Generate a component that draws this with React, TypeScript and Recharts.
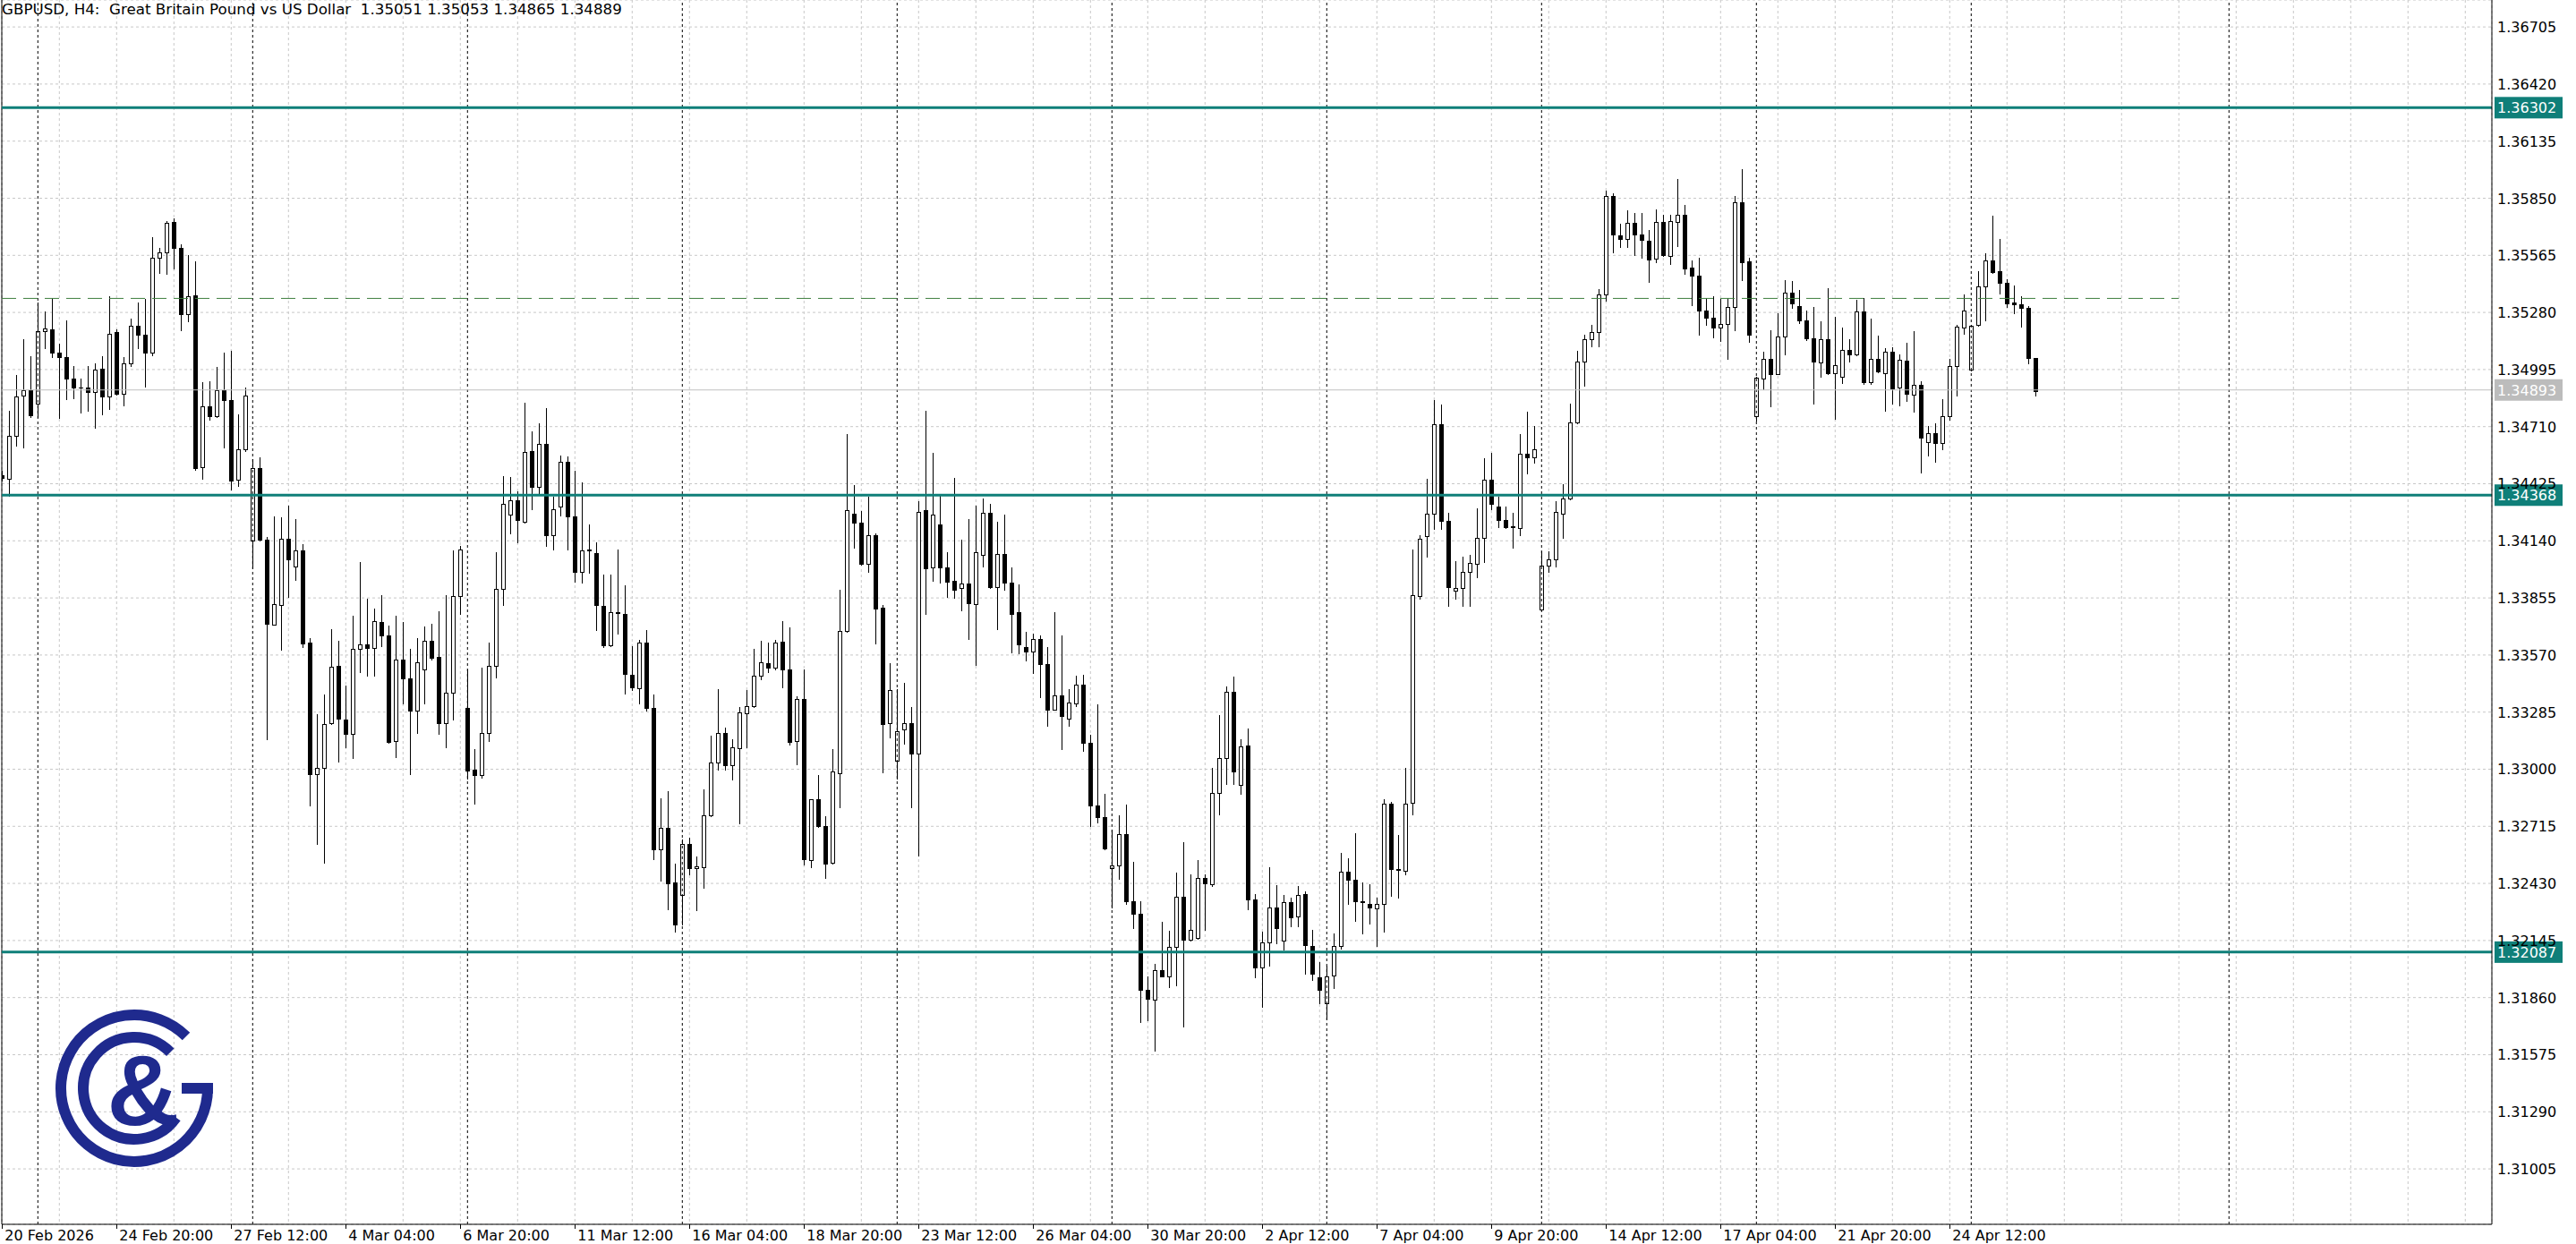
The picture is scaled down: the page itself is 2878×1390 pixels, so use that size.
import React from "react";
import { ComposedChart, Bar, XAxis, YAxis, CartesianGrid, ReferenceLine } from "recharts";

const opens = [
  1.34468, 1.34450, 1.34665, 1.34864, 1.34894, 1.34827, 1.35186, 1.35195, 1.35080, 1.35056,
  1.34952, 1.34905, 1.34903, 1.34881, 1.34998, 1.34859, 1.35182, 1.34872, 1.35026, 1.35212,
  1.35171, 1.35078, 1.35552, 1.35578, 1.35731, 1.35604, 1.35271, 1.35364, 1.34509, 1.34810,
  1.34762, 1.34894, 1.34844, 1.34446, 1.34595, 1.34141, 1.34502, 1.34145, 1.33723, 1.33821,
  1.34150, 1.34011, 1.34091, 1.33632, 1.32977, 1.33007, 1.33230, 1.33518, 1.33250, 1.33178,
  1.33600, 1.33622, 1.33605, 1.33734, 1.33669, 1.33141, 1.33548, 1.33455, 1.33293, 1.33498,
  1.33642, 1.33559, 1.33230, 1.33380, 1.33865, 1.33305, 1.32997, 1.32973, 1.33183, 1.33518,
  1.33901, 1.34273, 1.34343, 1.34237, 1.34589, 1.34410, 1.34622, 1.34166, 1.34310, 1.34534,
  1.34264, 1.33987, 1.34095, 1.34080, 1.33817, 1.33619, 1.33783, 1.33776, 1.33473, 1.33404,
  1.33630, 1.33307, 1.32599, 1.32709, 1.32434, 1.32373, 1.32629, 1.32505, 1.32510, 1.32771,
  1.33032, 1.33183, 1.33021, 1.33107, 1.33280, 1.33316, 1.33467, 1.33531, 1.33509, 1.33635,
  1.33498, 1.33139, 1.33349, 1.32545, 1.32851, 1.32716, 1.32534, 1.32982, 1.33688, 1.34275,
  1.34231, 1.34023, 1.34170, 1.33808, 1.33231, 1.33043, 1.33198, 1.33229, 1.33080, 1.34295,
  1.34006, 1.34223, 1.34006, 1.33940, 1.33905, 1.33925, 1.33826, 1.34069, 1.34282, 1.33911,
  1.34074, 1.33931, 1.33782, 1.33611, 1.33587, 1.33648, 1.33525, 1.33299, 1.33367, 1.33253,
  1.33330, 1.33424, 1.33131, 1.32817, 1.32762, 1.32505, 1.32519, 1.32676, 1.32343, 1.32279,
  1.31900, 1.31848, 1.31997, 1.31968, 1.32115, 1.32363, 1.32150, 1.32160, 1.32459, 1.32425,
  1.32883, 1.33054, 1.33385, 1.32924, 1.33119, 1.32352, 1.32010, 1.32137, 1.32309, 1.32143,
  1.32338, 1.32264, 1.32377, 1.32118, 1.31963, 1.31830, 1.31971, 1.32118, 1.32487, 1.32450,
  1.32340, 1.32329, 1.32306, 1.32329, 1.32828, 1.32504, 1.32493, 1.32831, 1.33866, 1.34162,
  1.34275, 1.34723, 1.34241, 1.33891, 1.33905, 1.33987, 1.34026, 1.34156, 1.34444, 1.34311,
  1.34246, 1.34212, 1.34204, 1.34576, 1.34556, 1.33798, 1.34018, 1.34046, 1.34275, 1.34353,
  1.34731, 1.35036, 1.35146, 1.35182, 1.35371, 1.35862, 1.35664, 1.35648, 1.35727, 1.35670,
  1.35636, 1.35550, 1.35733, 1.35562, 1.35733, 1.35766, 1.35502, 1.35465, 1.35290, 1.35253,
  1.35205, 1.35223, 1.35308, 1.35832, 1.35533, 1.34761, 1.34950, 1.35050, 1.34972, 1.35159,
  1.35380, 1.35313, 1.35241, 1.35150, 1.35032, 1.35147, 1.34977, 1.34960, 1.35095, 1.35071,
  1.35286, 1.34932, 1.35046, 1.34977, 1.35084, 1.34905, 1.35040, 1.34871, 1.34920, 1.34634,
  1.34678, 1.34629, 1.34763, 1.35014, 1.35204, 1.34995, 1.35219, 1.35408, 1.35541, 1.35487,
  1.35429, 1.35330, 1.35322, 1.35302, 1.35051,
];

const highs = [
  1.34490, 1.34790, 1.34968, 1.35147, 1.35063, 1.35329, 1.35286, 1.35353, 1.35126, 1.35242,
  1.35013, 1.34948, 1.35013, 1.35026, 1.35063, 1.35359, 1.35195, 1.35056, 1.35249, 1.35329,
  1.35348, 1.35654, 1.35604, 1.35734, 1.35751, 1.35621, 1.35565, 1.35535, 1.34933, 1.34937,
  1.35009, 1.35080, 1.35087, 1.34769, 1.34903, 1.34550, 1.34556, 1.34158, 1.34262, 1.34256,
  1.34316, 1.34249, 1.34124, 1.33656, 1.33275, 1.33373, 1.33697, 1.33641, 1.33416, 1.33764,
  1.34033, 1.33849, 1.33803, 1.33868, 1.33715, 1.33767, 1.33736, 1.33600, 1.33654, 1.33712,
  1.33728, 1.33787, 1.33870, 1.34091, 1.34115, 1.33500, 1.33101, 1.33507, 1.33630, 1.34082,
  1.34461, 1.34458, 1.34388, 1.34829, 1.34685, 1.34726, 1.34804, 1.34361, 1.34567, 1.34560,
  1.34490, 1.34430, 1.34220, 1.34131, 1.33971, 1.33972, 1.34095, 1.33916, 1.33615, 1.33644,
  1.33693, 1.33371, 1.32855, 1.32891, 1.32528, 1.32650, 1.32656, 1.32565, 1.32899, 1.33167,
  1.33398, 1.33207, 1.33148, 1.33309, 1.33394, 1.33600, 1.33641, 1.33630, 1.33644, 1.33741,
  1.33710, 1.33365, 1.33500, 1.32851, 1.32971, 1.32765, 1.33100, 1.33896, 1.34672, 1.34420,
  1.34289, 1.34361, 1.34177, 1.33821, 1.33530, 1.33398, 1.33431, 1.33310, 1.34337, 1.34789,
  1.34578, 1.34363, 1.34085, 1.34453, 1.34146, 1.34249, 1.34315, 1.34350, 1.34324, 1.34236,
  1.34269, 1.34006, 1.33922, 1.33685, 1.33677, 1.33668, 1.33611, 1.33784, 1.33668, 1.33400,
  1.33466, 1.33470, 1.33174, 1.33323, 1.32878, 1.32698, 1.32769, 1.32823, 1.32538, 1.32341,
  1.31966, 1.32030, 1.32238, 1.32192, 1.32483, 1.32637, 1.32477, 1.32545, 1.32477, 1.33005,
  1.33269, 1.33413, 1.33464, 1.33150, 1.33203, 1.32377, 1.32188, 1.32512, 1.32422, 1.32371,
  1.32357, 1.32419, 1.32391, 1.32197, 1.32039, 1.32019, 1.32180, 1.32583, 1.32555, 1.32681,
  1.32436, 1.32428, 1.32357, 1.32851, 1.32836, 1.32673, 1.33006, 1.34097, 1.34170, 1.34449,
  1.34844, 1.34819, 1.34280, 1.34038, 1.34060, 1.34072, 1.34303, 1.34554, 1.34579, 1.34359,
  1.34311, 1.34280, 1.34675, 1.34785, 1.34712, 1.34088, 1.34088, 1.34337, 1.34424, 1.34824,
  1.35089, 1.35168, 1.35216, 1.35397, 1.35890, 1.35876, 1.35721, 1.35789, 1.35777, 1.35777,
  1.35693, 1.35793, 1.35766, 1.35766, 1.35945, 1.35815, 1.35539, 1.35551, 1.35350, 1.35362,
  1.35348, 1.35353, 1.35860, 1.35994, 1.35551, 1.34957, 1.35084, 1.35189, 1.35278, 1.35442,
  1.35439, 1.35392, 1.35290, 1.35307, 1.35238, 1.35399, 1.35256, 1.35204, 1.35148, 1.35342,
  1.35353, 1.35248, 1.35166, 1.35104, 1.35107, 1.35072, 1.35129, 1.35186, 1.34938, 1.34714,
  1.34726, 1.34846, 1.35047, 1.35219, 1.35371, 1.35219, 1.35484, 1.35577, 1.35763, 1.35647,
  1.35447, 1.35413, 1.35363, 1.35313, 1.35053,
];

const lows = [
  1.34440, 1.34364, 1.34617, 1.34604, 1.34758, 1.34758, 1.35104, 1.35056, 1.34753, 1.34846,
  1.34853, 1.34779, 1.34788, 1.34704, 1.34771, 1.34797, 1.34870, 1.34818, 1.35013, 1.35100,
  1.34909, 1.35065, 1.35478, 1.35474, 1.35498, 1.35190, 1.35238, 1.34494, 1.34450, 1.34743,
  1.34760, 1.34608, 1.34394, 1.34414, 1.34590, 1.34002, 1.34140, 1.33148, 1.33720, 1.33596,
  1.33862, 1.33944, 1.33611, 1.32819, 1.32628, 1.32535, 1.33225, 1.33037, 1.33109, 1.33057,
  1.33483, 1.33466, 1.33466, 1.33613, 1.33130, 1.33061, 1.33329, 1.32977, 1.33182, 1.33327,
  1.33549, 1.33176, 1.33110, 1.33249, 1.33774, 1.32953, 1.32829, 1.32957, 1.33139, 1.33458,
  1.33819, 1.34177, 1.34133, 1.34230, 1.34297, 1.34374, 1.34115, 1.34096, 1.34266, 1.34096,
  1.33938, 1.33932, 1.33982, 1.33695, 1.33611, 1.33614, 1.33677, 1.33376, 1.33394, 1.33329,
  1.33294, 1.32552, 1.32446, 1.32300, 1.32187, 1.32227, 1.32474, 1.32295, 1.32410, 1.32765,
  1.32997, 1.32997, 1.32948, 1.32731, 1.33110, 1.33310, 1.33447, 1.33486, 1.33500, 1.33409,
  1.33121, 1.33026, 1.32523, 1.32510, 1.32710, 1.32459, 1.32530, 1.32812, 1.33685, 1.34106,
  1.34019, 1.33984, 1.33628, 1.32986, 1.33157, 1.32955, 1.33128, 1.32812, 1.32571, 1.33775,
  1.33942, 1.33931, 1.33859, 1.33855, 1.33795, 1.33650, 1.33521, 1.34014, 1.33905, 1.33701,
  1.33894, 1.33584, 1.33580, 1.33543, 1.33481, 1.33361, 1.33218, 1.33295, 1.33102, 1.33216,
  1.33317, 1.33091, 1.32718, 1.32736, 1.32600, 1.32312, 1.32451, 1.32328, 1.32205, 1.31738,
  1.31747, 1.31595, 1.31964, 1.31911, 1.31920, 1.31716, 1.32145, 1.32155, 1.32198, 1.32416,
  1.32773, 1.32926, 1.32926, 1.32878, 1.32301, 1.31963, 1.31816, 1.32019, 1.32132, 1.32098,
  1.32216, 1.32216, 1.31977, 1.31949, 1.31830, 1.31751, 1.31906, 1.32104, 1.32329, 1.32244,
  1.32180, 1.32230, 1.32118, 1.32188, 1.32369, 1.32357, 1.32476, 1.32775, 1.33852, 1.34063,
  1.34198, 1.34198, 1.33815, 1.33852, 1.33815, 1.33815, 1.33956, 1.34035, 1.34297, 1.34210,
  1.34204, 1.34105, 1.34170, 1.34478, 1.34528, 1.33792, 1.33984, 1.34012, 1.34156, 1.34345,
  1.34725, 1.34912, 1.35112, 1.35112, 1.35337, 1.35580, 1.35608, 1.35608, 1.35566, 1.35552,
  1.35431, 1.35532, 1.35560, 1.35520, 1.35611, 1.35472, 1.35316, 1.35168, 1.35219, 1.35156,
  1.35137, 1.35047, 1.35193, 1.35442, 1.35132, 1.34741, 1.34895, 1.34813, 1.34970, 1.35072,
  1.35301, 1.35226, 1.35144, 1.34826, 1.34957, 1.34970, 1.34749, 1.34928, 1.35035, 1.35065,
  1.34923, 1.34925, 1.34980, 1.34789, 1.34826, 1.34816, 1.34838, 1.34786, 1.34480, 1.34565,
  1.34535, 1.34599, 1.34746, 1.34863, 1.35174, 1.34990, 1.35215, 1.35241, 1.35478, 1.35374,
  1.35308, 1.35278, 1.35208, 1.35025, 1.34865,
];

const closes = [
  1.34455, 1.34665, 1.34859, 1.34894, 1.34766, 1.35186, 1.35201, 1.35078, 1.35056, 1.34952,
  1.34903, 1.34903, 1.34881, 1.34996, 1.34859, 1.35175, 1.34872, 1.35026, 1.35212, 1.35171,
  1.35078, 1.35552, 1.35578, 1.35727, 1.35604, 1.35271, 1.35359, 1.34502, 1.34810, 1.34762,
  1.34894, 1.34844, 1.34440, 1.34595, 1.34864, 1.34502, 1.34145, 1.33725, 1.33823, 1.34150,
  1.34048, 1.34091, 1.33626, 1.32977, 1.33007, 1.33226, 1.33513, 1.33254, 1.33178, 1.33600,
  1.33622, 1.33607, 1.33738, 1.33669, 1.33137, 1.33546, 1.33455, 1.33293, 1.33535, 1.33642,
  1.33555, 1.33230, 1.33383, 1.33865, 1.34095, 1.32995, 1.32973, 1.33183, 1.33518, 1.33901,
  1.34323, 1.34343, 1.34242, 1.34585, 1.34410, 1.34622, 1.34166, 1.34297, 1.34534, 1.34264,
  1.33987, 1.34093, 1.34093, 1.33819, 1.33617, 1.33783, 1.33780, 1.33477, 1.33407, 1.33630,
  1.33307, 1.32599, 1.32709, 1.32430, 1.32226, 1.32629, 1.32505, 1.32514, 1.32771, 1.33032,
  1.33183, 1.33021, 1.33110, 1.33285, 1.33316, 1.33467, 1.33535, 1.33509, 1.33630, 1.33498,
  1.33136, 1.33349, 1.32552, 1.32851, 1.32716, 1.32527, 1.32988, 1.33688, 1.34291, 1.34231,
  1.34023, 1.34166, 1.33804, 1.33227, 1.33394, 1.33192, 1.33229, 1.33080, 1.34286, 1.34001,
  1.34269, 1.34006, 1.33935, 1.33896, 1.33925, 1.33828, 1.34085, 1.34282, 1.33911, 1.34074,
  1.33933, 1.33777, 1.33624, 1.33587, 1.33650, 1.33525, 1.33299, 1.33367, 1.33264, 1.33332,
  1.33424, 1.33133, 1.32817, 1.32762, 1.32604, 1.32519, 1.32676, 1.32343, 1.32279, 1.31900,
  1.31852, 1.31999, 1.31968, 1.32115, 1.32363, 1.32150, 1.32196, 1.32459, 1.32429, 1.32883,
  1.33054, 1.33385, 1.32990, 1.33115, 1.32352, 1.32010, 1.32137, 1.32309, 1.32208, 1.32338,
  1.32259, 1.32371, 1.32123, 1.31977, 1.31898, 1.31968, 1.32118, 1.32487, 1.32450, 1.32343,
  1.32335, 1.32312, 1.32329, 1.32828, 1.32504, 1.32498, 1.32828, 1.33871, 1.34150, 1.34275,
  1.34723, 1.34241, 1.33911, 1.33905, 1.33987, 1.34029, 1.34156, 1.34444, 1.34325, 1.34246,
  1.34210, 1.34207, 1.34576, 1.34556, 1.34599, 1.34018, 1.34046, 1.34283, 1.34353, 1.34731,
  1.35036, 1.35146, 1.35182, 1.35371, 1.35862, 1.35670, 1.35648, 1.35727, 1.35670, 1.35642,
  1.35546, 1.35733, 1.35566, 1.35736, 1.35766, 1.35499, 1.35465, 1.35290, 1.35253, 1.35205,
  1.35223, 1.35308, 1.35832, 1.35530, 1.35168, 1.34954, 1.35048, 1.34972, 1.35160, 1.35380,
  1.35324, 1.35241, 1.35150, 1.35034, 1.35147, 1.34977, 1.35016, 1.35095, 1.35071, 1.35286,
  1.34932, 1.35046, 1.34984, 1.35084, 1.34901, 1.35044, 1.34874, 1.34920, 1.34655, 1.34678,
  1.34629, 1.34763, 1.35014, 1.35211, 1.35290, 1.35214, 1.35408, 1.35541, 1.35481, 1.35429,
  1.35326, 1.35322, 1.35302, 1.35053, 1.34889,
];

const timeLabels = [
  "20 Feb 2026", "24 Feb 20:00", "27 Feb 12:00", "4 Mar 04:00", "6 Mar 20:00", "11 Mar 12:00",
  "16 Mar 04:00", "18 Mar 20:00", "23 Mar 12:00", "26 Mar 04:00", "30 Mar 20:00", "2 Apr 12:00",
  "7 Apr 04:00", "9 Apr 20:00", "14 Apr 12:00", "17 Apr 04:00", "21 Apr 20:00", "24 Apr 12:00",
];

const priceTicks = [
  1.36705, 1.36420, 1.36135, 1.35850, 1.35565, 1.35280, 1.34995, 1.34710, 1.34425, 1.34140,
  1.33855, 1.33570, 1.33285, 1.33000, 1.32715, 1.32430, 1.32145, 1.31860, 1.31575, 1.31290, 1.31005,
];

const levelLines = [1.36302, 1.34368, 1.32087];
const levelLabels = ["1.36302", "1.34368", "1.32087"];
const bidPrice = 1.34893;
const bidLabel = "1.34893";
const dashedLevel = 1.3535;
const weekSeparators = [5, 35, 65, 95, 125, 155, 185, 215, 245, 275, 311];
const titleText = "GBPUSD, H4:  Great Britain Pound vs US Dollar  1.35051 1.35053 1.34865 1.34889";

const X_DOMAIN: [number, number] = [-0.0375, 347.7125];
const Y_DOMAIN: [number, number] = [1.307284, 1.368395];
const gridTicks = Array.from({ length: 44 }, (_, k) => k * 8);

const candles = opens.map((o, i) => ({
  i,
  o,
  h: highs[i],
  l: lows[i],
  c: closes[i],
  range: [lows[i], highs[i]],
}));

const FONT = '"DejaVu Sans", Verdana, sans-serif';
const TEAL = "#0f7f79";

const Candle = (props: any) => {
  const { x, y, width, height, payload } = props;
  if (payload == null || x == null || y == null) return <g />;
  const { o, h, l, c } = payload;
  const top = Math.min(y, y + height);
  const bottom = Math.max(y, y + height);
  const span = h - l;
  const k = span > 0 ? (bottom - top) / span : 0;
  const py = (p: number) => top + (h - p) * k;
  const cx = Math.round(x + width / 2);
  const bTop = Math.round(py(Math.max(o, c)));
  const bBot = Math.round(py(Math.min(o, c)));
  const bull = c >= o;
  return (
    <g>
      <line x1={cx + 0.5} x2={cx + 0.5} y1={Math.round(top)} y2={Math.round(bottom) + 1} stroke="#000" strokeWidth={1} />
      {bBot - bTop < 1 ? (
        <line x1={cx - 2} x2={cx + 3} y1={bTop + 0.5} y2={bTop + 0.5} stroke="#000" strokeWidth={1} />
      ) : (
        <rect x={cx - 1.5} y={bTop + 0.5} width={4} height={bBot - bTop} fill={bull ? "#fff" : "#000"} stroke="#000" strokeWidth={1} />
      )}
    </g>
  );
};

const TimeTick = (props: any) => {
  const { x, y, payload } = props;
  const v = payload?.value;
  if (v == null || v % 16 !== 0) return <g />;
  const label = timeLabels[v / 16];
  if (!label) return <g />;
  const xr = Math.round(x) + 0.5;
  return (
    <g>
      <line x1={xr} x2={xr} y1={y} y2={y + 5} stroke="#000" strokeWidth={1} />
      <text x={x + 3} y={y + 18} fontSize={16} fontFamily={FONT} fill="#000" textAnchor="start">
        {label}
      </text>
    </g>
  );
};

const PriceTick = (props: any) => {
  const { x, y, payload } = props;
  return (
    <text x={x + 6} y={y + 6} fontSize={16} fontFamily={FONT} fill="#000" textAnchor="start">
      {Number(payload.value).toFixed(5)}
    </text>
  );
};

const BoxLabel = (props: any) => {
  const { viewBox, text, bg } = props;
  if (!viewBox) return <g />;
  const xr = viewBox.x + viewBox.width;
  const yc = viewBox.y;
  return (
    <g>
      <rect x={xr + 3} y={yc - 12} width={76} height={24} fill={bg} />
      <text x={xr + 6} y={yc + 6} fontSize={16} fontFamily={FONT} fill="#fff" textAnchor="start">
        {text}
      </text>
    </g>
  );
};

const Logo = () => (
  <g fill="none" stroke="#1f2a8e" strokeWidth={12}>
    <path d="M 208 1158 A 82 82 0 1 0 232 1216" />
    <path d="M 190.3 1175.7 A 57 57 0 1 0 196.7 1248.7" />
    <rect x={203} y={1210} width={35} height={12} fill="#1f2a8e" stroke="none" />
    <text x={160} y={1257} fontSize={112} fontWeight="bold" fontFamily='"Liberation Sans", Arial, sans-serif' fill="#1f2a8e" stroke="none" textAnchor="middle">
      &amp;
    </text>
  </g>
);

export default function App() {
  return (
    <div style={{ position: "absolute", left: 0, top: 0, width: 2878, height: 1390, background: "#fff" }}>
      <ComposedChart width={2878} height={1390} data={candles} margin={{ top: 0, right: 0, bottom: 0, left: 2 }}>
        <CartesianGrid stroke="#c8c8c8" strokeDasharray="3 3" />
        <XAxis
          type="number"
          dataKey="i"
          domain={X_DOMAIN}
          ticks={gridTicks}
          interval={0}
          height={22}
          tickSize={0}
          tickMargin={0}
          tickLine={false}
          axisLine={{ stroke: "#000" }}
          tick={<TimeTick />}
          allowDataOverflow
        />
        <YAxis
          orientation="right"
          type="number"
          domain={Y_DOMAIN}
          ticks={priceTicks}
          interval={0}
          width={94}
          tickSize={0}
          tickMargin={0}
          tickLine={false}
          axisLine={{ stroke: "#000" }}
          tick={<PriceTick />}
          allowDataOverflow
        />
        {weekSeparators.map((s) => (
          <ReferenceLine key={"sep" + s} x={s} stroke="#000" strokeDasharray="3 3" />
        ))}
        <ReferenceLine x={X_DOMAIN[0]} stroke="#000" />
        <Bar dataKey="range" shape={<Candle />} isAnimationActive={false} barSize={5} />
        <ReferenceLine y={bidPrice} stroke="#c0c0c0" label={<BoxLabel text={bidLabel} bg="#bcbcbc" />} />
        <ReferenceLine
          segment={[{ x: X_DOMAIN[0], y: dashedLevel }, { x: 304, y: dashedLevel }]}
          stroke="#3f7f3f"
          strokeDasharray="16 8"
        />
        {levelLines.map((v, n) => (
          <ReferenceLine key={"lvl" + n} y={v} stroke={TEAL} strokeWidth={3} label={<BoxLabel text={levelLabels[n]} bg={TEAL} />} />
        ))}
      </ComposedChart>
      <svg width={2878} height={1390} style={{ position: "absolute", left: 0, top: 0, pointerEvents: "none" }}>
        <text x={2} y={16} fontSize={16.7} fontFamily={FONT} fill="#000" style={{ whiteSpace: "pre" }}>
          {titleText}
        </text>
        <Logo />
      </svg>
    </div>
  );
}
